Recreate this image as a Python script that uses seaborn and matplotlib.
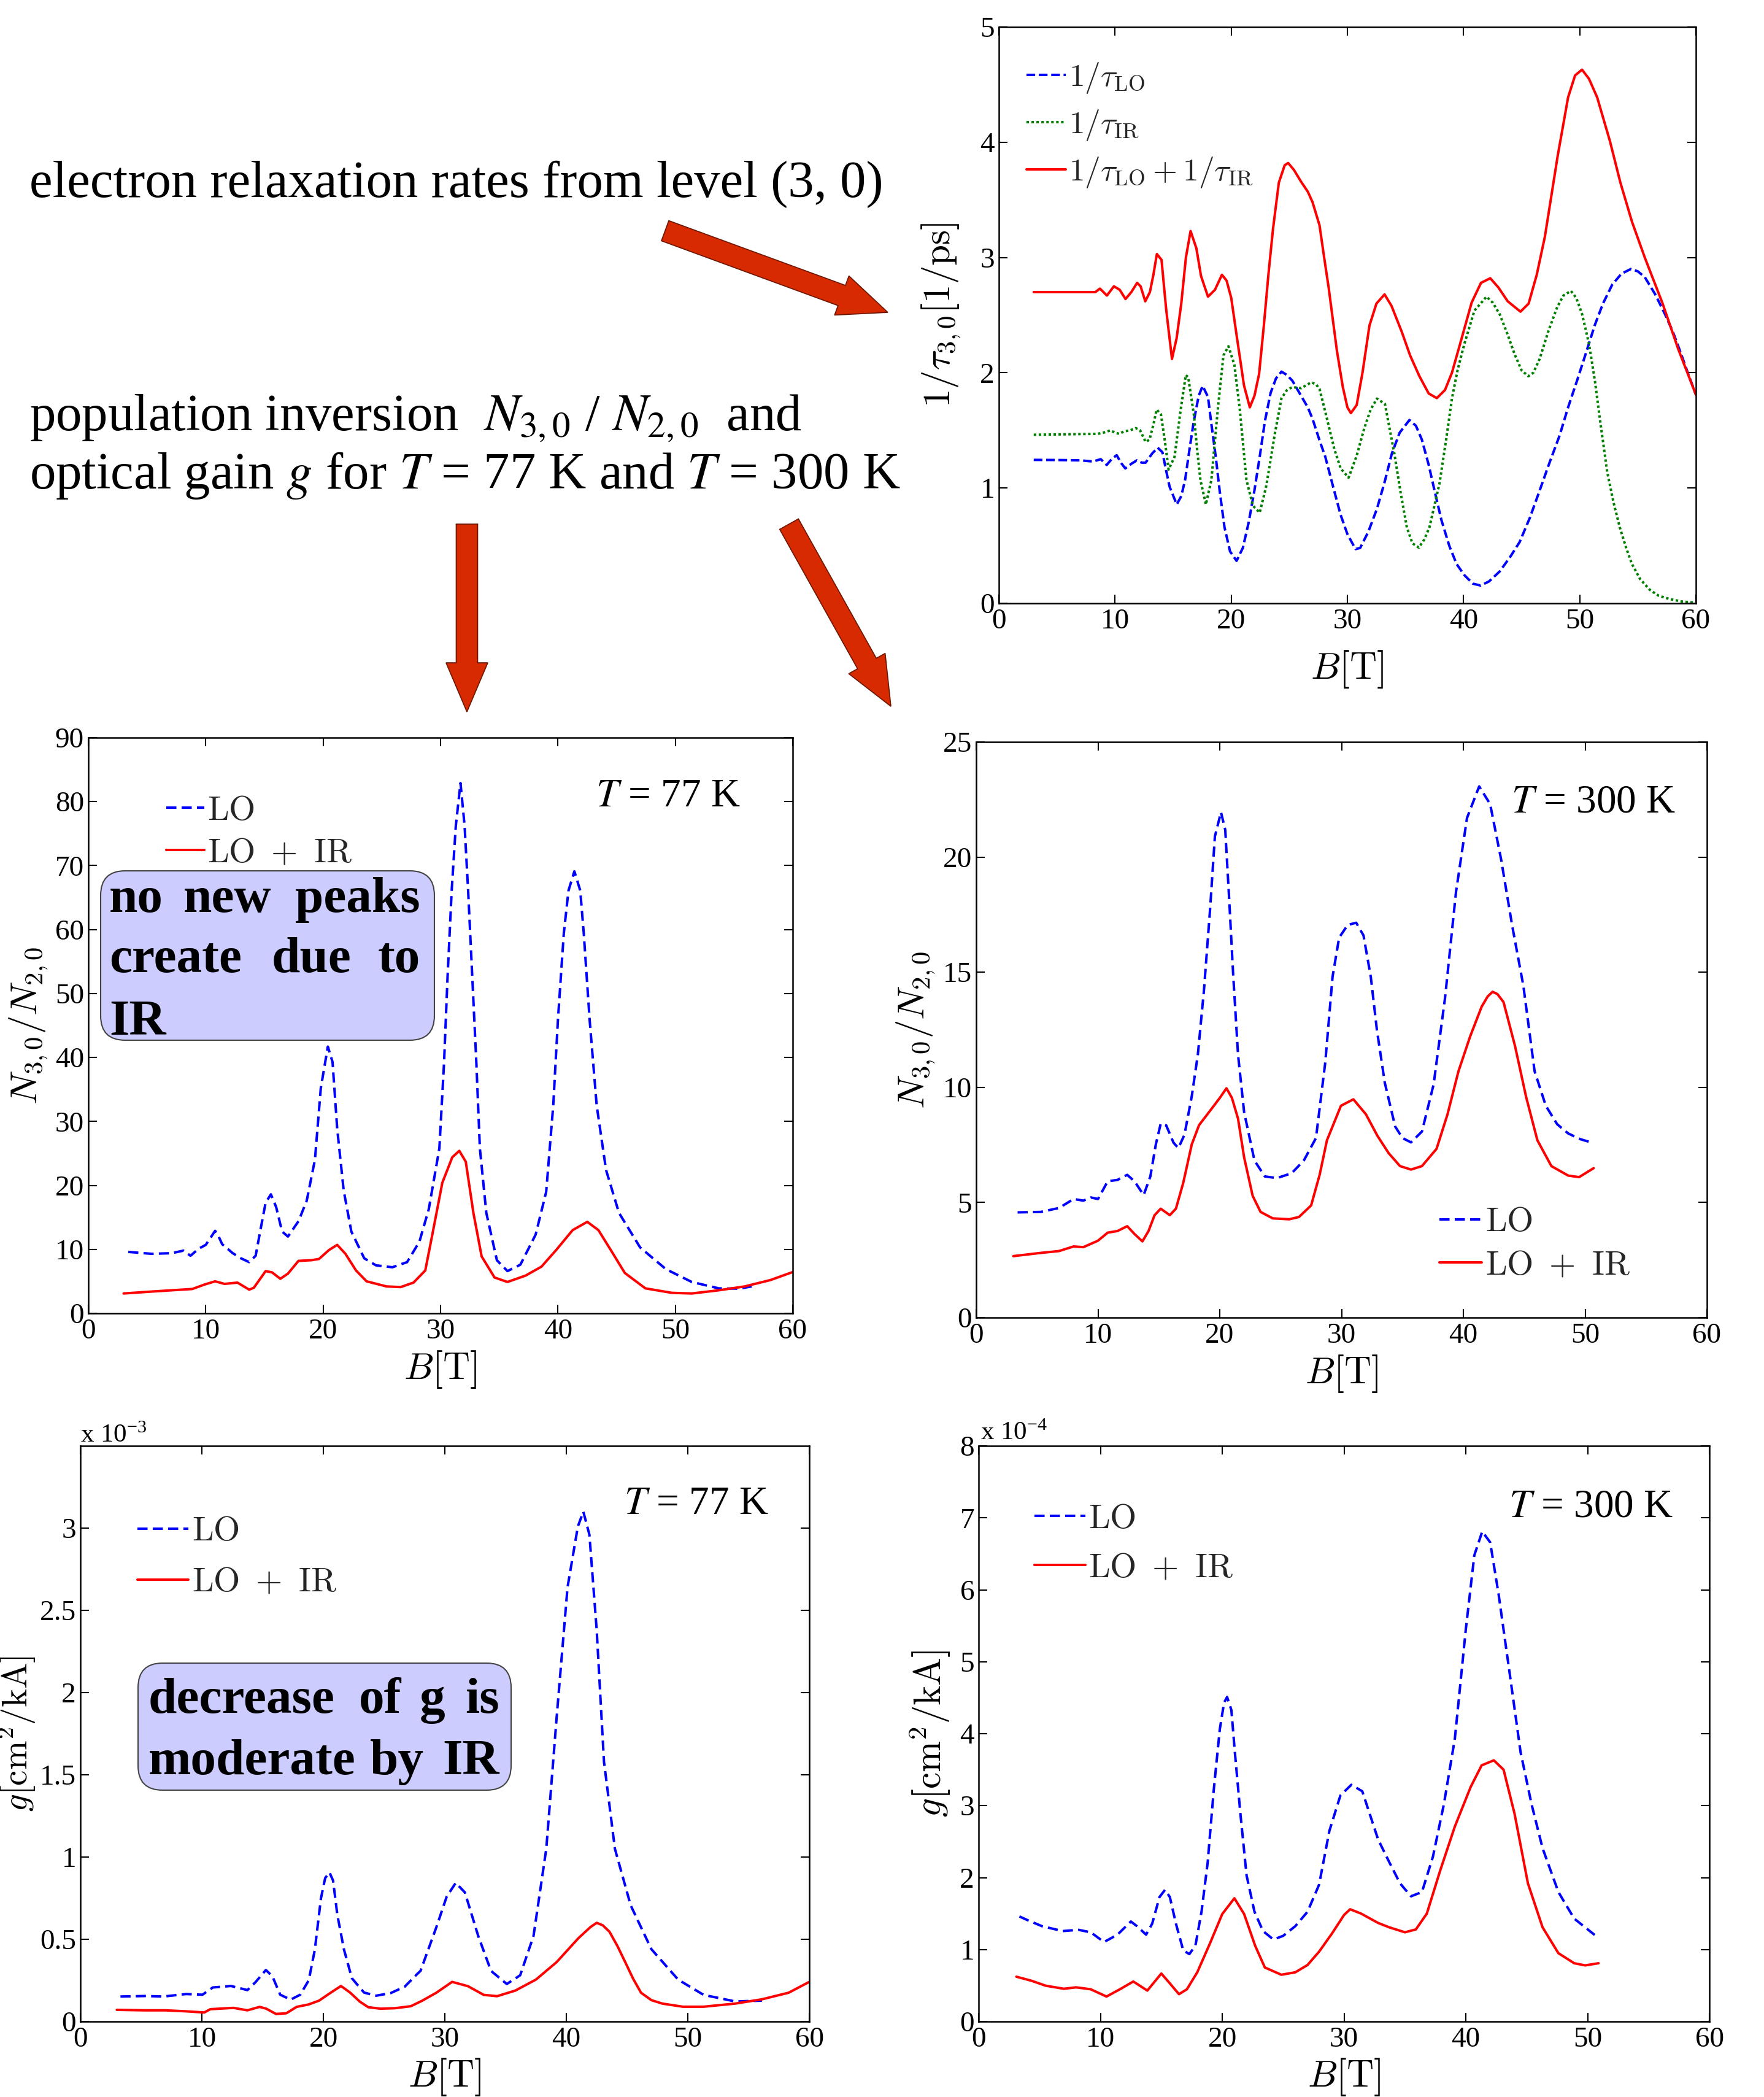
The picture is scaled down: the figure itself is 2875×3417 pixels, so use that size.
import numpy as np
import pandas as pd
import seaborn as sns
import matplotlib.pyplot as plt
from matplotlib.patches import FancyBboxPatch, FancyArrow

sns.set_theme(style='white')
plt.rcParams['font.family'] = ['Liberation Serif', 'DejaVu Serif']
plt.rcParams['mathtext.fontset'] = 'cm'
plt.rcParams['axes.unicode_minus'] = False

W, H, DPI = 2875, 3417, 100

# ---- data: (B [T], value) ----
TAU_LO = [(3.0, 1.244), (5.0, 1.243), (7.0, 1.24), (8.1, 1.23), (8.77, 1.25), (9.28, 1.20), (9.7, 1.25),
          (10.14, 1.285), (10.5, 1.22), (10.88, 1.17), (11.4, 1.21), (11.88, 1.24), (12.3, 1.22), (12.63, 1.22),
          (13.2, 1.30), (13.67, 1.35), (14.08, 1.31), (14.4, 1.15), (14.7, 1.01), (15.31, 0.857), (15.7, 0.93),
          (16.03, 1.07), (16.4, 1.33), (16.78, 1.58), (17.2, 1.80), (17.54, 1.886), (18.0, 1.79), (18.3, 1.55),
          (18.67, 1.27), (19.0, 0.98), (19.42, 0.66), (19.9, 0.45), (20.46, 0.368), (21.0, 0.48), (21.5, 0.70),
          (22.0, 0.98), (22.45, 1.27), (22.9, 1.58), (23.39, 1.825), (23.85, 1.95), (24.33, 2.01), (24.8, 1.98),
          (25.27, 1.93), (25.9, 1.82), (26.59, 1.70), (27.0, 1.60), (27.58, 1.42), (28.1, 1.27), (28.8, 1.00),
          (29.42, 0.766), (30.0, 0.60), (30.7, 0.47), (31.1, 0.48), (31.8, 0.62), (32.54, 0.818), (33.2, 1.05),
          (33.83, 1.30), (34.5, 1.48), (35.34, 1.59), (35.9, 1.54), (36.41, 1.42), (37.0, 1.20), (37.5, 0.978),
          (38.1, 0.72), (38.77, 0.499), (39.4, 0.34), (40.08, 0.243), (40.8, 0.17), (41.47, 0.154), (42.2, 0.19),
          (43.1, 0.275), (44.0, 0.40), (44.82, 0.53), (45.7, 0.74), (46.55, 0.978), (47.4, 1.22), (48.27, 1.456),
          (49.0, 1.70), (49.78, 1.935), (50.5, 2.16), (51.3, 2.414), (52.0, 2.60), (52.8, 2.765), (53.6, 2.86),
          (54.4, 2.90), (55.0, 2.88), (55.6, 2.83), (56.5, 2.68), (57.33, 2.51), (58.0, 2.36), (58.63, 2.19),
          (59.3, 2.00), (60.0, 1.81)]
TAU_IR = [(3.0, 1.462), (5.0, 1.465), (7.0, 1.468), (8.5, 1.47), (9.0, 1.48), (9.61, 1.50), (10.0, 1.48),
          (10.37, 1.47), (10.75, 1.49), (11.3, 1.50), (11.78, 1.52), (12.16, 1.50), (12.63, 1.40), (12.97, 1.42),
          (13.3, 1.55), (13.58, 1.68), (13.95, 1.64), (14.3, 1.40), (14.61, 1.16), (15.12, 1.27), (15.65, 1.68),
          (16.09, 1.98), (16.3, 1.96), (16.78, 1.64), (17.1, 1.30), (17.35, 1.07), (17.82, 0.857), (18.29, 1.07),
          (18.86, 1.70), (19.33, 2.15), (19.76, 2.23), (20.27, 2.07), (20.74, 1.68), (21.31, 1.07), (21.87, 0.847),
          (22.45, 0.786), (23.0, 1.01), (23.4, 1.25), (23.77, 1.48), (24.33, 1.78), (24.8, 1.85), (25.27, 1.876),
          (26.03, 1.866), (26.88, 1.917), (27.3, 1.90), (27.6, 1.86), (28.1, 1.66), (28.87, 1.34), (29.42, 1.17),
          (30.1, 1.09), (30.8, 1.28), (31.46, 1.52), (32.0, 1.68), (32.54, 1.776), (33.23, 1.73), (34.04, 1.30),
          (34.6, 0.95), (35.12, 0.658), (35.6, 0.52), (36.15, 0.483), (36.6, 0.55), (37.06, 0.658), (37.93, 1.04),
          (38.5, 1.42), (39.0, 1.776), (39.5, 2.03), (40.08, 2.254), (40.94, 2.54), (41.98, 2.66), (42.5, 2.61),
          (43.1, 2.51), (43.8, 2.33), (44.4, 2.16), (45.0, 2.02), (45.58, 1.97), (46.0, 2.00), (46.55, 2.12),
          (47.3, 2.36), (48.06, 2.57), (48.6, 2.67), (49.24, 2.71), (49.7, 2.65), (50.2, 2.51), (50.8, 2.25),
          (51.3, 1.935), (51.8, 1.55), (52.37, 1.137), (52.9, 0.88), (53.45, 0.658), (54.0, 0.48), (54.5, 0.34),
          (55.2, 0.21), (56.04, 0.116), (56.8, 0.065), (57.76, 0.036), (58.8, 0.015), (60.0, 0.005)]
TAU_SUM = [(3.0, 2.70), (5.0, 2.70), (7.0, 2.70), (8.3, 2.70), (8.7, 2.73), (9.3, 2.67), (9.9, 2.75), (10.4, 2.72),
           (10.9, 2.64), (11.4, 2.70), (11.9, 2.78), (12.2, 2.75), (12.6, 2.62), (13.0, 2.70), (13.3, 2.85),
           (13.6, 3.03), (14.0, 2.98), (14.4, 2.55), (14.9, 2.12), (15.3, 2.30), (15.7, 2.60), (16.1, 3.00),
           (16.5, 3.23), (17.0, 3.08), (17.4, 2.84), (18.0, 2.66), (18.6, 2.72), (19.2, 2.85), (19.6, 2.80),
           (20.0, 2.65), (20.5, 2.30), (21.1, 1.89), (21.6, 1.70), (22.0, 1.80), (22.4, 1.99), (22.8, 2.40),
           (23.2, 2.85), (23.6, 3.25), (24.1, 3.65), (24.6, 3.80), (24.9, 3.82), (25.4, 3.76), (26.0, 3.66),
           (26.6, 3.57), (27.0, 3.48), (27.6, 3.28), (28.0, 3.00), (28.4, 2.73), (28.8, 2.42), (29.1, 2.19),
           (29.6, 1.88), (30.0, 1.70), (30.3, 1.65), (30.8, 1.72), (31.3, 2.00), (31.9, 2.41), (32.5, 2.60),
           (33.2, 2.68), (33.8, 2.58), (34.7, 2.35), (35.4, 2.15), (36.2, 1.97), (37.0, 1.82), (37.7, 1.78),
           (38.4, 1.85), (39.0, 2.00), (39.7, 2.25), (40.7, 2.61), (41.5, 2.78), (42.3, 2.82), (43.0, 2.74),
           (43.8, 2.62), (44.9, 2.53), (45.6, 2.60), (46.3, 2.85), (47.0, 3.18), (48.1, 3.88), (49.0, 4.39),
           (49.6, 4.58), (50.2, 4.63), (50.8, 4.55), (51.5, 4.39), (52.6, 4.01), (53.5, 3.65), (54.5, 3.31),
           (55.6, 3.00), (57.1, 2.61), (58.5, 2.20), (60.0, 1.81)]

N77_LO = [(3.4, 9.6), (5.4, 9.3), (7.1, 9.4), (8.1, 9.8), (8.7, 9.0), (9.4, 10.1), (10.0, 10.7), (10.4, 11.8),
          (10.8, 12.9), (11.1, 12.0), (11.4, 10.8), (12.3, 9.4), (13.0, 8.6), (13.7, 8.0), (14.25, 9.0),
          (14.8, 14.4), (15.1, 17.3), (15.55, 18.6), (16.0, 16.6), (16.5, 12.8), (17.0, 12.0), (17.9, 14.4),
          (18.6, 17.6), (19.3, 24.0), (19.8, 35.2), (20.4, 41.7), (20.8, 39.3), (21.2, 28.8), (21.75, 19.2),
          (22.4, 12.8), (23.5, 8.6), (24.5, 7.5), (25.9, 7.2), (27.15, 8.0), (28.2, 11.2), (29.0, 16.3),
          (29.4, 20.5), (29.9, 25.8), (30.3, 39.2), (30.6, 52.7), (30.95, 66.1), (31.3, 76.2), (31.7, 82.9),
          (32.05, 76.2), (32.35, 66.1), (32.7, 52.7), (33.05, 39.2), (33.35, 25.8), (33.9, 15.7), (34.8, 8.3),
          (35.7, 6.6), (36.8, 7.6), (38.1, 12.3), (39.0, 19.0), (39.6, 32.5), (40.0, 45.9), (40.5, 59.4),
          (40.9, 66.1), (41.4, 69.1), (41.9, 66.1), (42.2, 59.4), (42.7, 45.9), (43.3, 32.5), (44.1, 22.4),
          (45.2, 15.7), (47.0, 10.3), (49.2, 6.9), (51.4, 4.9), (53.7, 3.9), (55.4, 3.85), (56.5, 4.2)]
N77_IR = [(3.0, 3.1), (5.4, 3.4), (7.1, 3.6), (8.85, 3.8), (9.9, 4.5), (10.8, 5.0), (11.6, 4.6), (12.7, 4.8),
          (13.7, 3.7), (14.1, 4.0), (15.1, 6.6), (15.65, 6.4), (16.35, 5.4), (17.0, 6.2), (17.9, 8.2), (19.0, 8.3),
          (19.65, 8.5), (20.5, 9.9), (21.2, 10.7), (21.9, 9.3), (22.8, 6.7), (23.7, 5.0), (25.4, 4.2), (26.6, 4.1),
          (27.7, 4.8), (28.7, 6.7), (29.3, 12.3), (30.15, 20.4), (31.0, 24.4), (31.6, 25.4), (32.15, 23.7),
          (32.8, 15.7), (33.5, 8.9), (34.6, 5.6), (35.7, 4.9), (37.25, 5.9), (38.6, 7.3), (39.9, 10.0),
          (41.25, 13.0), (42.5, 14.3), (43.45, 13.0), (44.6, 9.6), (45.7, 6.3), (47.45, 3.9), (49.7, 3.2),
          (51.4, 3.1), (53.7, 3.6), (55.9, 4.2), (58.1, 5.2), (60.0, 6.45)]

N300_LO = [(3.4, 4.57), (5.3, 4.59), (6.8, 4.76), (8.0, 5.15), (8.8, 5.08), (9.4, 5.22), (10.0, 5.15), (10.8, 5.92),
           (11.6, 5.98), (12.4, 6.2), (13.0, 5.92), (13.75, 5.32), (14.3, 6.13), (14.75, 7.52), (15.15, 8.42),
           (15.6, 8.35), (16.2, 7.6), (16.6, 7.36), (17.1, 7.94), (17.7, 9.61), (18.2, 11.42), (18.7, 14.21),
           (19.2, 17.7), (19.6, 20.9), (20.1, 21.95), (20.45, 21.18), (20.75, 18.39), (21.1, 14.9), (21.5, 11.42),
           (22.0, 8.92), (22.85, 6.82), (23.7, 6.13), (24.7, 6.06), (25.9, 6.27), (26.9, 6.82), (27.9, 7.8),
           (28.66, 11.07), (29.26, 14.8), (29.8, 16.5), (30.5, 17.05), (31.2, 17.15), (31.8, 16.6), (32.4, 14.8),
           (32.9, 12.5), (33.55, 10.2), (34.4, 8.3), (35.0, 7.8), (35.7, 7.61), (36.6, 8.08), (37.56, 10.13),
           (38.5, 13.9), (39.4, 18.5), (40.3, 21.7), (41.3, 23.07), (42.2, 22.3), (43.1, 19.9), (44.0, 17.05),
           (44.93, 14.4), (45.85, 10.7), (46.77, 9.2), (47.7, 8.4), (48.6, 8.0), (49.6, 7.75), (50.55, 7.6)]
N300_IR = [(3.05, 2.67), (5.3, 2.81), (6.8, 2.89), (8.0, 3.09), (8.8, 3.06), (10.0, 3.34), (10.8, 3.69),
           (11.6, 3.76), (12.4, 3.97), (13.0, 3.63), (13.65, 3.31), (14.15, 3.76), (14.65, 4.45), (15.15, 4.73),
           (15.9, 4.45), (16.4, 4.73), (17.0, 5.85), (17.7, 7.52), (18.3, 8.36), (19.3, 9.05), (20.0, 9.54),
           (20.55, 9.96), (21.0, 9.54), (21.5, 8.64), (22.0, 6.96), (22.7, 5.29), (23.35, 4.59), (24.35, 4.31),
           (25.7, 4.27), (26.5, 4.37), (27.5, 4.87), (28.2, 6.2), (28.8, 7.7), (29.95, 9.2), (30.97, 9.48),
           (32.0, 8.83), (32.95, 7.89), (33.87, 7.14), (34.8, 6.58), (35.7, 6.43), (36.6, 6.58), (37.8, 7.33),
           (38.7, 8.83), (39.6, 10.7), (40.55, 12.2), (41.5, 13.5), (42.0, 13.95), (42.4, 14.15), (42.8, 14.05),
           (43.3, 13.7), (44.24, 11.8), (45.16, 9.57), (46.08, 7.7), (47.23, 6.58), (48.6, 6.17), (49.5, 6.1),
           (50.7, 6.49)]

# gain at 77 K in units of 1e-3, at 300 K in units of 1e-4
G77_LO = [(3.3, 0.152), (5.3, 0.155), (6.85, 0.152), (8.7, 0.167), (10.05, 0.163), (10.9, 0.207), (12.4, 0.216),
          (13.75, 0.191), (14.4, 0.238), (15.27, 0.313), (15.8, 0.276), (16.45, 0.163), (17.3, 0.133),
          (18.1, 0.163), (18.8, 0.251), (19.3, 0.437), (19.8, 0.748), (20.15, 0.872), (20.5, 0.907),
          (20.8, 0.857), (21.15, 0.649), (21.7, 0.437), (22.35, 0.263), (23.35, 0.176), (24.35, 0.157),
          (25.55, 0.173), (26.7, 0.212), (27.7, 0.287), (28.0, 0.308), (29.3, 0.573), (30.15, 0.759),
          (30.9, 0.843), (31.65, 0.785), (32.75, 0.52), (33.8, 0.308), (35.1, 0.228), (36.2, 0.281), (37.3, 0.52),
          (38.35, 1.05), (39.2, 1.846), (40.1, 2.64), (40.95, 3.01), (41.4, 3.10), (41.9, 2.96), (42.5, 2.38),
          (43.1, 1.58), (44.0, 1.05), (45.3, 0.706), (47.0, 0.44), (49.2, 0.255), (51.3, 0.162), (53.9, 0.122),
          (56.1, 0.127)]
G77_IR = [(3.0, 0.071), (5.3, 0.068), (7.0, 0.068), (8.7, 0.062), (10.2, 0.055), (10.7, 0.075), (12.6, 0.083),
          (13.75, 0.068), (14.75, 0.089), (15.3, 0.078), (16.1, 0.046), (16.95, 0.05), (17.8, 0.089),
          (18.8, 0.104), (19.65, 0.127), (20.5, 0.170), (21.45, 0.216), (22.2, 0.176), (23.0, 0.121),
          (23.7, 0.087), (24.7, 0.078), (25.9, 0.081), (27.2, 0.093), (28.15, 0.127), (29.3, 0.175),
          (30.6, 0.241), (31.9, 0.215), (33.2, 0.162), (34.3, 0.154), (35.8, 0.188), (37.5, 0.255), (39.2, 0.361),
          (41.0, 0.507), (42.0, 0.575), (42.5, 0.60), (43.0, 0.585), (43.55, 0.546), (44.2, 0.46), (44.85, 0.361),
          (45.5, 0.26), (46.15, 0.175), (47.0, 0.13), (47.9, 0.109), (49.6, 0.09), (51.3, 0.09), (53.9, 0.109),
          (56.1, 0.135), (58.3, 0.175), (60.0, 0.241)]
G300_LO = [(3.35, 1.46), (4.0, 1.41), (5.2, 1.325), (6.9, 1.257), (8.2, 1.274), (9.2, 1.24), (10.3, 1.105),
           (11.4, 1.207), (12.5, 1.39), (13.0, 1.325), (13.75, 1.207), (14.25, 1.36), (14.85, 1.73), (15.3, 1.83),
           (15.7, 1.73), (16.2, 1.36), (16.8, 0.988), (17.3, 0.937), (17.8, 1.055), (18.3, 1.525), (18.8, 2.20),
           (19.3, 3.21), (19.8, 4.06), (20.15, 4.43), (20.4, 4.51), (20.75, 4.33), (21.05, 3.72), (21.5, 2.876),
           (22.0, 2.03), (22.65, 1.525), (23.35, 1.257), (24.2, 1.14), (25.0, 1.19), (26.0, 1.325), (27.0, 1.525),
           (27.95, 1.90), (28.8, 2.65), (29.7, 3.14), (30.6, 3.29), (31.5, 3.20), (32.8, 2.53), (33.7, 2.22),
           (34.6, 1.92), (35.5, 1.74), (36.4, 1.80), (37.3, 2.29), (38.2, 3.02), (39.1, 3.93), (40.0, 5.45),
           (40.7, 6.48), (41.35, 6.81), (42.0, 6.66), (42.7, 5.93), (43.6, 4.84), (44.5, 3.74), (45.4, 3.02),
           (46.3, 2.41), (47.6, 1.80), (48.9, 1.43), (50.9, 1.16)]
G300_IR = [(3.1, 0.623), (4.35, 0.566), (5.5, 0.498), (7.0, 0.455), (8.0, 0.475), (9.2, 0.448), (10.5, 0.347),
           (11.6, 0.448), (12.7, 0.556), (13.85, 0.43), (15.0, 0.667), (15.6, 0.55), (16.45, 0.38), (17.1, 0.448),
           (17.95, 0.684), (19.0, 1.088), (20.0, 1.493), (21.0, 1.713), (21.8, 1.493), (22.7, 1.055), (23.5, 0.751),
           (24.85, 0.65), (26.0, 0.684), (27.0, 0.785), (27.95, 0.97), (29.0, 1.22), (30.0, 1.48), (30.5, 1.56),
           (31.4, 1.50), (32.8, 1.37), (33.7, 1.31), (35.0, 1.24), (35.9, 1.28), (36.8, 1.50), (37.9, 2.10),
           (39.1, 2.71), (40.4, 3.26), (41.3, 3.56), (42.3, 3.63), (43.1, 3.50), (44.0, 2.89), (45.1, 1.92),
           (46.3, 1.31), (47.6, 0.95), (48.9, 0.81), (49.8, 0.78), (50.9, 0.81)]

B_TICKS = [0, 10, 20, 30, 40, 50, 60]

LW = 2.9
DASH = (0, (4.1, 2.1))
DASH_TOP = (0, (3.5, 1.5))
DOT = (0, (1.0, 1.0))

fig = plt.figure(figsize=(W / DPI, H / DPI), dpi=DPI)
fig.patch.set_facecolor('white')


def panel(l, r, t, b, ylim, yticks):
    ax = fig.add_axes([l / W, 1 - b / H, (r - l) / W, (b - t) / H])
    ax.set_xlim(0, 60)
    ax.set_ylim(*ylim)
    ax.set_xticks(B_TICKS)
    ax.set_xticklabels([str(v) for v in B_TICKS])
    ax.set_yticks(yticks)
    ax.set_yticklabels([f'{v:g}' for v in yticks])
    ax.tick_params(direction='in', top=True, right=True, bottom=True, left=True,
                   length=10, width=1.5, colors='black', labelsize=34)
    ax.tick_params(axis='x', pad=6)
    ax.tick_params(axis='y', pad=5)
    for s in ax.spines.values():
        s.set_visible(True)
        s.set_color('black')
        s.set_linewidth(1.8)
    return ax


def curve(ax, pts, color, ls, label):
    arr = np.array(pts)
    df = pd.DataFrame({'B': arr[:, 0], 'v': arr[:, 1]})
    sns.lineplot(data=df, x='B', y='v', ax=ax, color=color, linestyle=ls, linewidth=LW,
                 label=label, estimator=None, sort=False, legend=False)


def labels(ax, ylabel, ylab_x, xlab_y, yfs=44):
    ax.set_xlabel(r'$B[\mathrm{T}]$', fontsize=44, color='black')
    ax.xaxis.set_label_coords(0.5, xlab_y)
    ax.set_ylabel(ylabel, fontsize=yfs, color='black')
    ax.yaxis.set_label_coords(ylab_x, 0.5)


def legend(ax, x, y, fs, hl, sp):
    ax.legend(loc='upper left', bbox_to_anchor=(x, y), frameon=False, fontsize=fs,
              handlelength=hl, handletextpad=0.1, borderpad=0, borderaxespad=0, labelspacing=sp)


# relaxation rates
ax1 = panel(1628, 2764, 44, 983, (0, 5), [0, 1, 2, 3, 4, 5])
curve(ax1, TAU_LO, '#0000ff', DASH_TOP, r'$1/\tau_{\mathrm{LO}}$')
curve(ax1, TAU_IR, '#008000', DOT, r'$1/\tau_{\mathrm{IR}}$')
curve(ax1, TAU_SUM, '#ff0000', '-', r'$1/\tau_{\mathrm{LO}}+1/\tau_{\mathrm{IR}}$')
labels(ax1, r'$1/\tau_{3,0}[1/\mathrm{ps}]$', -0.052, -0.079)
legend(ax1, 0.040, 0.941, 37, 1.24, 0.4)

# population inversion
ax2 = panel(144, 1292, 1202, 2140, (0, 90), list(range(0, 91, 10)))
curve(ax2, N77_LO, '#0000ff', DASH, r'$\mathrm{LO}$')
curve(ax2, N77_IR, '#ff0000', '-', r'$\mathrm{LO}\ +\ \mathrm{IR}$')
labels(ax2, r'$N_{3,0}/N_{2,0}$', -0.055, -0.062)
legend(ax2, 0.111, 0.90, 40, 1.1, 0.3)

ax3 = panel(1591, 2782, 1209, 2147, (0, 25), [0, 5, 10, 15, 20, 25])
curve(ax3, N300_LO, '#0000ff', DASH, r'$\mathrm{LO}$')
curve(ax3, N300_IR, '#ff0000', '-', r'$\mathrm{LO}\ +\ \mathrm{IR}$')
labels(ax3, r'$N_{3,0}/N_{2,0}$', -0.054, -0.062)
legend(ax3, 0.634, 0.193, 40, 1.24, 0.33)

# optical gain
ax4 = panel(131, 1319, 2356, 3294, (0, 3.5), [0, 0.5, 1, 1.5, 2, 2.5, 3])
curve(ax4, G77_LO, '#0000ff', DASH, r'$\mathrm{LO}$')
curve(ax4, G77_IR, '#ff0000', '-', r'$\mathrm{LO}\ +\ \mathrm{IR}$')
labels(ax4, r'$g[\mathrm{cm}^2/\mathrm{kA}]$', -0.059, -0.061, yfs=41)
legend(ax4, 0.078, 0.878, 40, 1.5, 0.55)

ax5 = panel(1595, 2786, 2356, 3294, (0, 8), [0, 1, 2, 3, 4, 5, 6, 7, 8])
curve(ax5, G300_LO, '#0000ff', DASH, r'$\mathrm{LO}$')
curve(ax5, G300_IR, '#ff0000', '-', r'$\mathrm{LO}\ +\ \mathrm{IR}$')
labels(ax5, r'$g[\mathrm{cm}^2/\mathrm{kA}]$', -0.036, -0.061)
legend(ax5, 0.076, 0.90, 40, 1.5, 0.5)

# ---- overlay in pixel coordinates: captions, arrows, notes ----
ov = fig.add_axes([0, 0, 1, 1], zorder=10)
ov.set_xlim(0, W)
ov.set_ylim(H, 0)
ov.axis('off')

txt = dict(va='baseline', ha='left', color='black', math_fontfamily='stix')
ov.text(48, 321, 'electron relaxation rates from level (3, 0)', fontsize=61, **txt)
ov.text(48, 701, r'population inversion  $N_{3,0}$ / $N_{2,0}$  and', fontsize=61, **txt)
ov.text(48, 796, r'optical gain $g$ for $T$ = 77 K and $T$ = 300 K', fontsize=61, **txt)

ARROW = dict(length_includes_head=True, width=35, head_width=68, head_length=80,
             fc='#d82a00', ec='#6b1500', lw=1.2)
ov.add_patch(FancyArrow(1084, 376, 363, 133, **ARROW))
ov.add_patch(FancyArrow(761, 854, 0, 306, **ARROW))
ov.add_patch(FancyArrow(1286, 854, 166, 297, **ARROW))

ov.text(971, 1314, r'$T$ = 77 K', fontsize=47, **txt)
ov.text(2463, 1324, r'$T$ = 300 K', fontsize=47, **txt)
ov.text(1017, 2467, r'$T$ = 77 K', fontsize=47, **txt)
ov.text(2459, 2471, r'$T$ = 300 K', fontsize=47, **txt)

ov.text(131, 2350, r'x 10$^{\mathregular{-3}}$', fontsize=31, **txt)
ov.text(1598, 2346, r'x 10$^{\mathregular{-4}}$', fontsize=31, **txt)

BOX = dict(boxstyle='round,pad=0,rounding_size=40', fc='#ccccff', ec='#444444', lw=1.5)
ov.add_patch(FancyBboxPatch((164, 1419), 708 - 164, 1695 - 1419, **BOX))
ov.add_patch(FancyBboxPatch((225, 2710), 833 - 225, 2917 - 2710, **BOX))

bold = dict(va='baseline', color='black', fontsize=60, fontweight='bold')
ov.text(178, 1486, 'no', ha='left', **bold)
ov.text(371, 1486, 'new', ha='center', **bold)
ov.text(685, 1486, 'peaks', ha='right', **bold)
ov.text(178, 1584, 'create', ha='left', **bold)
ov.text(507, 1584, 'due', ha='center', **bold)
ov.text(685, 1584, 'to', ha='right', **bold)
ov.text(178, 1686, 'IR', ha='left', **bold)

ov.text(242, 2791, 'decrease', ha='left', **bold)
ov.text(585, 2791, 'of', ha='left', **bold)
ov.text(684, 2791, 'g', ha='left', **bold)
ov.text(814, 2791, 'is', ha='right', **bold)
ov.text(242, 2891, 'moderate', ha='left', **bold)
ov.text(603, 2891, 'by', ha='left', **bold)
ov.text(814, 2891, 'IR', ha='right', **bold)

fig.savefig('out.png', dpi=DPI, facecolor='white')
